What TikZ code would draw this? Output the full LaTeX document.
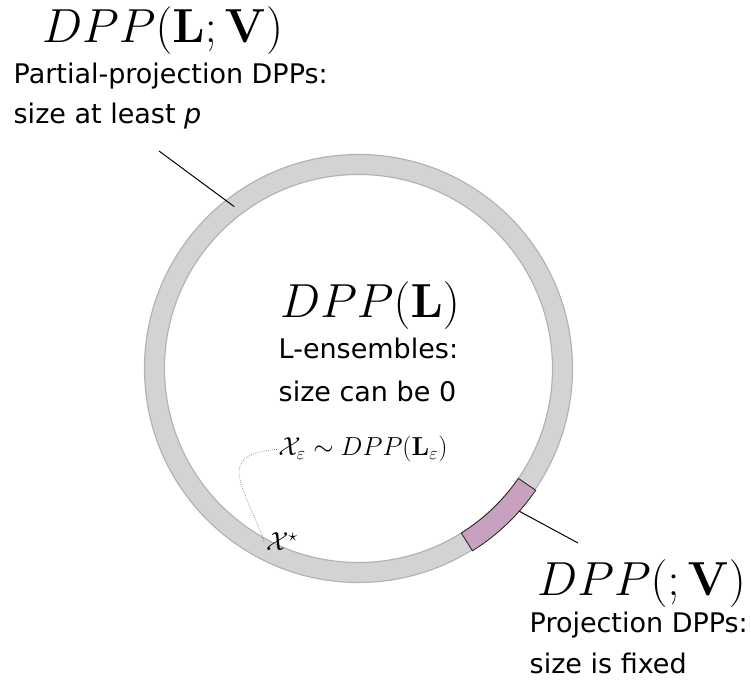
\RequirePackage{fix-cm}
\documentclass[tikz,border=0pt]{standalone}
\usepackage{amsmath,amssymb}
\usepackage[no-math]{fontspec}
\setmainfont{DejaVu Sans}
\usepackage{tikz}
\usetikzlibrary{positioning}

\definecolor{ringgray}{RGB}{212,210,212}
\definecolor{ringline}{RGB}{178,176,178}
\definecolor{projpink}{RGB}{201,161,192}

\begin{document}
\begin{tikzpicture}[x=0.025cm,y=0.025cm,
    every node/.style={inner sep=1pt},
    title/.style={anchor=base,font=\fontsize{34}{40}\selectfont},
    desc/.style={anchor=base west,font=\fontsize{19.2}{27}\selectfont},
    small/.style={anchor=base,font=\fontsize{18.5}{22}\selectfont},
    leader/.style={draw=black,line width=0.7pt},
    dotline/.style={draw=black!70,line width=0.4pt,densely dotted}]
  \useasboundingbox (-358.5,-319.5) rectangle (392.5,368.5);
  % the ring of DPPs
  \filldraw[fill=ringgray,draw=ringline,line width=0.8pt,even odd rule]
    (0,0) circle[radius=214] (0,0) circle[radius=194];
  % projection part
  \filldraw[fill=projpink,draw=black!85,line width=0.6pt]
    (-58:194) arc[start angle=-58,end angle=-34.5,radius=194]
    -- (-34.5:215) arc[start angle=-34.5,end angle=-58,radius=215] -- cycle;
  \coordinate (partialtip) at (127.5:204);
  \coordinate (partialend) at (-199.5,217.5);
  \coordinate (projtip) at (-41.6:215);
  \coordinate (projend) at (219.5,-174.5);

  \node[title] (titleA) at (-196,325.5) {$DPP(\mathbf{L};\mathbf{V})$};
  \node[desc] (descA1) at (-346.5,284.5) {Partial-projection DPPs:};
  \node[desc] (descA2) at (-346.5,244.5) {size at least \textit{p}};

  \node[title] (titleB) at (11.5,50.5) {$DPP(\mathbf{L})$};
  \node[desc] (descB1) at (-81.5,9.5) {L-ensembles:};
  \node[desc] (descB2) at (-81.5,-33.5) {size can be 0};

  \node[small] (Xeps) at (4.5,-87.5) {$\mathcal{X}_\varepsilon\sim DPP(\mathbf{L}_\varepsilon)$};
  \node[small] (Xstar) at (-76.5,-182.5) {$\mathcal{X}^\star$};

  \node[title] (titleC) at (283,-227.5) {$DPP(;\mathbf{V})$};
  \node[desc] (descC1) at (169.5,-264.5) {Projection DPPs:};
  \node[desc] (descC2) at (169.5,-305.5) {size is fixed};

  \draw[leader] (partialtip) -- (partialend);
  \draw[leader] (projtip) -- (projend);
  \draw[dotline] (Xeps.west) to[out=185,in=110,looseness=1.7] (Xstar.west);
\end{tikzpicture}
\end{document}
